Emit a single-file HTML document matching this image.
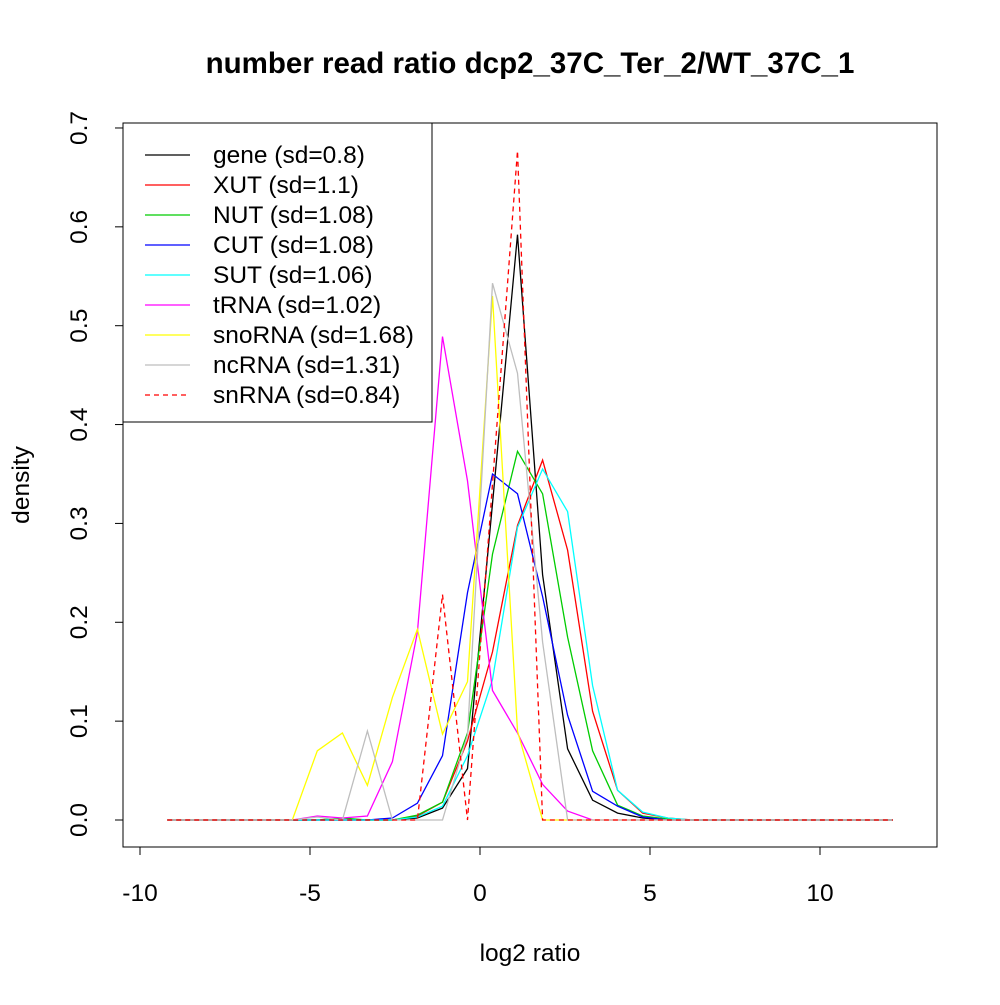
<!DOCTYPE html>
<html><head><meta charset="utf-8"><style>
body{margin:0;background:#fff}
text{font-family:"Liberation Sans",sans-serif}
</style></head><body>
<svg id="chart" width="1000" height="1000" xmlns="http://www.w3.org/2000/svg">
<rect width="1000" height="1000" fill="#fff"/>
<text x="530" y="73" font-size="29.5" font-weight="bold" text-anchor="middle">number read ratio dcp2_37C_Ter_2/WT_37C_1</text>
<rect x="123" y="123" width="814" height="724" fill="none" stroke="#000" stroke-width="1"/>
<g id="axes"></g>
<g id="series"></g>
<text x="530" y="961" font-size="24.5" text-anchor="middle">log2 ratio</text>
<text transform="translate(29,485) rotate(-90)" font-size="24.5" text-anchor="middle">density</text>
<g id="legend"></g>
</svg>
<script>
const xStart = -9.2, xStep = 0.736;
const seriesNames = ["gene (sd=0.8)","XUT (sd=1.1)","NUT (sd=1.08)","CUT (sd=1.08)","SUT (sd=1.06)","tRNA (sd=1.02)","snoRNA (sd=1.68)","ncRNA (sd=1.31)","snRNA (sd=0.84)"];
const seriesColors = ["#000","#f00","#0c0","#00f","#0ff","#f0f","#ff0","#bebebe","#f00"];
const gene   = [0,0,0,0,0,0,0,0,0,0,0.002,0.012,0.052,0.32,0.592,0.248,0.072,0.02,0.007,0.002,0,0,0,0,0,0,0,0,0,0];
const xut    = [0,0,0,0,0,0,0,0,0,0,0.004,0.018,0.08,0.17,0.298,0.364,0.273,0.11,0.03,0.007,0.002,0,0,0,0,0,0,0,0,0];
const nut    = [0,0,0,0,0,0,0,0.002,0,0,0.005,0.018,0.088,0.269,0.373,0.33,0.185,0.07,0.015,0.004,0.001,0,0,0,0,0,0,0,0,0];
const cut    = [0,0,0,0,0,0,0,0,0,0.002,0.017,0.065,0.23,0.35,0.33,0.226,0.106,0.029,0.014,0.003,0,0,0,0,0,0,0,0,0,0];
const sut    = [0,0,0,0,0,0,0,0,0,0,0.003,0.014,0.065,0.142,0.296,0.355,0.312,0.136,0.03,0.008,0.002,0,0,0,0,0,0,0,0,0];
const trna   = [0,0,0,0,0,0,0.004,0.002,0.004,0.059,0.19,0.489,0.343,0.131,0.088,0.036,0.009,0,0,0,0,0,0,0,0,0,0,0,0,0];
const snorna = [0,0,0,0,0,0,0.07,0.088,0.035,0.124,0.193,0.087,0.14,0.53,0.09,0,0,0,0,0,0,0,0,0,0,0,0,0,0,0];
const ncrna  = [0,0,0,0,0,0,0.003,0,0.09,0,0,0,0.086,0.543,0.452,0.18,0,0,0,0,0,0,0,0,0,0,0,0,0,0];
const snrna  = [0,0,0,0,0,0,0,0,0,0,0,0.228,0,0.34,0.677,0,0,0,0,0,0,0,0,0,0,0,0,0,0,0];
const seriesValues = [gene,xut,nut,cut,sut,trna,snorna,ncrna,snrna];
const xTicks = [-10,-5,0,5,10];
const yTicks = [0,0.1,0.2,0.3,0.4,0.5,0.6,0.7];
const xTickLabels = ["-10","-5","0","5","10"];
const yTickLabels = ["0.0","0.1","0.2","0.3","0.4","0.5","0.6","0.7"];

const NS="http://www.w3.org/2000/svg";
function xs(v){return 480 + v*34;}
function ys(v){return 820 - v*988.6;}
function mk(tag,attrs,parent){const e=document.createElementNS(NS,tag);for(const k in attrs)e.setAttribute(k,attrs[k]);parent.appendChild(e);return e;}
const axes=document.getElementById('axes');
let l=mk('line',{x1:xs(-10),x2:xs(10),y1:847,y2:847,stroke:'#000'},axes);


xTicks.forEach((t,i)=>{
  const tk=mk('line',{x1:xs(t),x2:xs(t),y1:847,y2:855,stroke:'#000'},axes);
  
  
  const tx=mk('text',{x:xs(t),y:901,'font-size':24.5,'text-anchor':'middle'},axes);
  tx.textContent=xTickLabels[i];
  
  
});
l=mk('line',{x1:123,x2:123,y1:ys(0),y2:ys(0.7),stroke:'#000'},axes);


yTicks.forEach((t,i)=>{
  const tk=mk('line',{x1:115,x2:123,y1:ys(t),y2:ys(t),stroke:'#000'},axes);
  
  
  const tx=mk('text',{transform:`translate(87,${ys(t)}) rotate(-90)`,'font-size':24.5,'text-anchor':'middle'},axes);
  tx.textContent=yTickLabels[i];
  
  
});
const sg=document.getElementById('series');
seriesValues.forEach((vals,si)=>{
  const pts=vals.map((v,i)=>xs(xStart+i*xStep).toFixed(1)+','+ys(v).toFixed(1)).join(' ');
  const p=mk('polyline',{points:pts,fill:'none',stroke:seriesColors[si],'stroke-width':1.3},sg);
  if(si===8)p.setAttribute('stroke-dasharray','5,4');
  
  
});
const lg=document.getElementById('legend');
const box=mk('rect',{x:123,y:123,width:309,height:299,fill:'#fff',stroke:'#000'},lg);


seriesNames.forEach((n,i)=>{
  const y=155+i*30;
  const ln=mk('line',{x1:145,x2:190,y1:y,y2:y,stroke:seriesColors[i],'stroke-width':1.3},lg);
  if(i===8)ln.setAttribute('stroke-dasharray','5,4');
  
  
  const tx=mk('text',{x:213,y:y+8,'font-size':24.5},lg);
  tx.textContent=n;
  
  
});
</script>
</body></html>
